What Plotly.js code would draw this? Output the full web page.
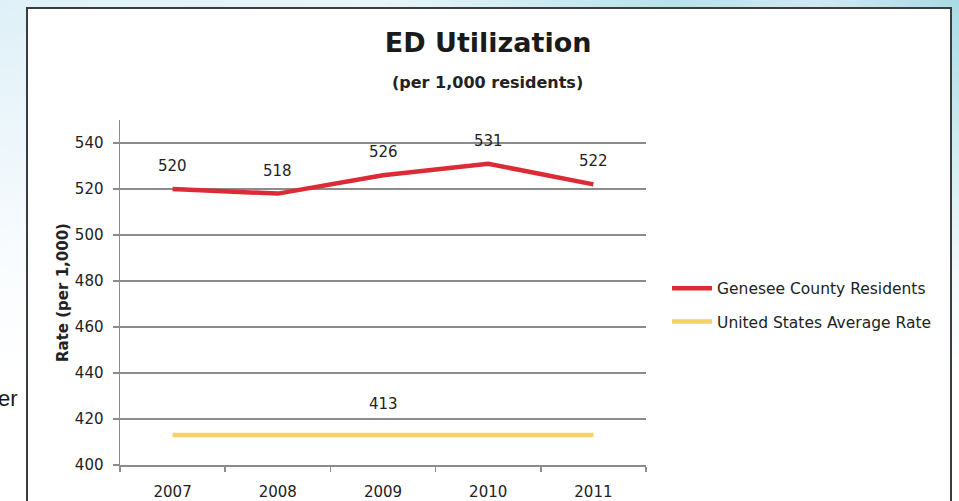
<!DOCTYPE html>
<html>
<head>
<meta charset="utf-8">
<script src="https://cdn.plot.ly/plotly-3.0.1.min.js"></script>
<style>
  html, body { margin: 0; padding: 0; }
  body {
    width: 959px; height: 501px; overflow: hidden; position: relative;
    background:
      linear-gradient(to bottom, rgba(255,255,255,0) 0%, rgba(255,255,255,0.85) 55%, #ffffff 75%),
      linear-gradient(to right, #dff0f8 0%, #e8f5fa 40%, #b5e2ea 70%, #cfe9f4 85%, #a9dbe4 100%);
  }
  #frame {
    position: absolute; left: 26px; top: 7px; width: 922px; height: 520px;
    background: #ffffff; border: 2px solid #3c3c3c;
  }
  #chart { position: absolute; left: 0; top: 0; width: 959px; height: 501px; }
</style>
</head>
<body>
<div id="frame"></div>
<div id="chart"></div>
<script>
// ED visits per 1,000 residents, by year
const years = ['2007', '2008', '2009', '2010', '2011'];
const geneseeRate = [520, 518, 526, 531, 522];
const usAverageRate = [413, 413, 413, 413, 413];
const seriesNames = ['Genesee County Residents', 'United States Average Rate'];
const yTickValues = [400, 420, 440, 460, 480, 500, 520, 540];
// the national average is labelled once, at the middle year
const usLabelIndex = 2;

const GRID = '#8c8c8c';
const TEXT = '#222222';

const traces = [
  {
    x: years, y: geneseeRate, name: seriesNames[0], type: 'scatter', mode: 'lines',
    line: { color: '#dc2b35', width: 4.5 }, legendgroup: 'g1'
  },
  {
    x: years, y: usAverageRate, name: seriesNames[1], type: 'scatter', mode: 'lines',
    line: { color: '#f4d366', width: 4.5 }, legendgroup: 'g2'
  }
];

// value labels sit above each point; category axes take the index as position
const labelFont = { family: 'DejaVu Sans', size: 15, color: TEXT };
const annotations = geneseeRate.map((v, i) => ({
  x: i, y: v, xref: 'x', yref: 'y', text: String(v),
  xanchor: 'center', yanchor: 'middle',
  showarrow: false, yshift: 23, font: labelFont
}));
annotations.push({
  x: usLabelIndex, y: usAverageRate[usLabelIndex], xref: 'x', yref: 'y',
  xanchor: 'center', yanchor: 'middle',
  text: String(usAverageRate[usLabelIndex]), showarrow: false, yshift: 31, font: labelFont
});
// subtitle under the main heading
annotations.push({
  x: 0.6996, y: 1.110, xref: 'paper', yref: 'paper', showarrow: false,
  xanchor: 'center', yanchor: 'middle',
  text: '<b>(per 1,000 residents)</b>',
  font: { family: 'DejaVu Sans', size: 16, color: TEXT }
});
// slide body text running under the chart frame
annotations.push({
  x: -0.19, y: 0.194, xref: 'paper', yref: 'paper', xanchor: 'right', yanchor: 'middle',
  showarrow: false,
  text: 'er', font: { family: 'Liberation Sans', size: 22, color: '#1a1a1a' }
});

const layout = {
  width: 959, height: 501,
  margin: { l: 120, r: 313, t: 120, b: 36 },
  paper_bgcolor: 'rgba(0,0,0,0)',
  plot_bgcolor: 'rgba(0,0,0,0)',
  font: { family: 'DejaVu Sans', color: TEXT },
  title: {
    text: '<b>ED Utilization</b>',
    xref: 'container', yref: 'container', x: 0.509, y: 0.916,
    xanchor: 'center', yanchor: 'middle',
    font: { family: 'DejaVu Sans', size: 27, color: '#1a1a1a' }
  },
  xaxis: {
    type: 'category', range: [-0.5, 4.5],
    showgrid: false, zeroline: false,
    showline: true, linecolor: GRID, linewidth: 1.5,
    ticks: 'outside', tickson: 'boundaries', ticklen: 5, tickcolor: GRID, tickwidth: 1.5,
    ticklabelstandoff: 12,
    tickfont: { family: 'DejaVu Sans', size: 15, color: TEXT }
  },
  yaxis: {
    range: [400, 550], tickvals: yTickValues,
    showgrid: true, gridcolor: GRID, gridwidth: 1.5, zeroline: false,
    showline: true, linecolor: GRID, linewidth: 1.5,
    ticks: 'outside', ticklen: 6, tickcolor: GRID, tickwidth: 1.5,
    ticklabelstandoff: 6,
    tickfont: { family: 'DejaVu Sans', size: 15, color: TEXT },
    title: {
      text: '<b>Rate (per 1,000)</b>', standoff: 2,
      font: { family: 'DejaVu Sans', size: 15, color: TEXT }
    }
  },
  showlegend: true,
  legend: {
    x: 1.04, xanchor: 'left', y: 0.56, yanchor: 'top',
    bgcolor: 'rgba(0,0,0,0)', borderwidth: 0,
    tracegroupgap: 10, itemwidth: 40,
    font: { family: 'DejaVu Sans', size: 15.5, color: TEXT }
  },
  annotations: annotations
};

Plotly.newPlot('chart', traces, layout, { staticPlot: true, displayModeBar: false });
</script>
</body>
</html>
